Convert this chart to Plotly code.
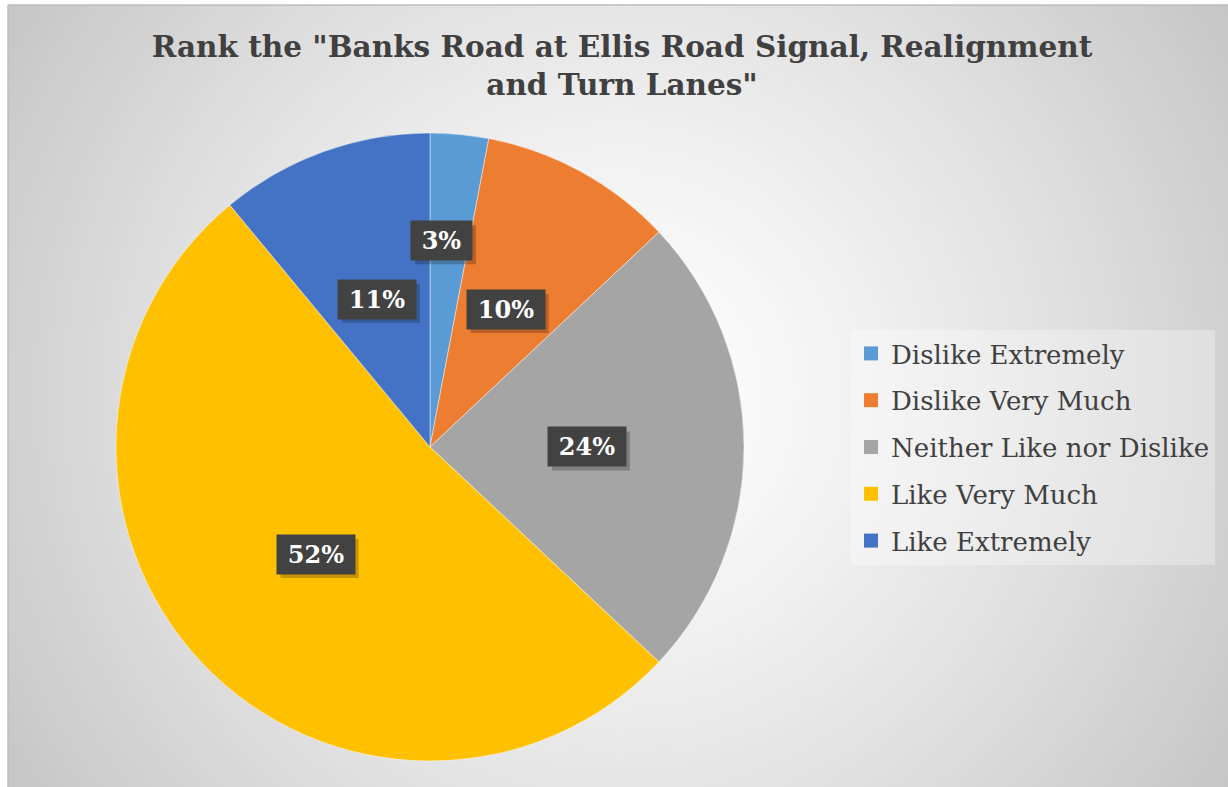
import math
import plotly.graph_objects as go

# Survey responses for the Banks Road / Ellis Road signal project
categories = ["Dislike Extremely", "Dislike Very Much", "Neither Like nor Dislike",
              "Like Very Much", "Like Extremely"]
percentages = [3, 10, 24, 52, 11]
slice_colors = ["#5B9BD5", "#ED7D31", "#A5A5A5", "#FFC000", "#4472C4"]

title_text = 'Rank the "Banks Road at Ellis Road Signal, Realignment<br>and Turn Lanes"'

W, H = 1228, 787
CX, CY, R = 430, 447, 314          # pie centre and radius in pixels
LEFT_PAD, TOP_PAD = 8, 5           # white margin around the chart area
label_radius = [0.66, 0.5, 0.5, 0.5, 0.5]
label_nudge = [-8, 0, 0, 0, 0]     # small horizontal nudge in pixels


def px_x(x):
    return x / W


def px_y(y):
    return 1 - y / H


fig = go.Figure()

fig.add_trace(go.Pie(
    labels=categories,
    values=percentages,
    marker=dict(colors=slice_colors, line=dict(color="rgba(255,255,255,0.55)", width=0.8)),
    sort=False,
    direction="clockwise",
    rotation=0,
    textinfo="none",
    hoverinfo="label+percent",
    showlegend=False,
    domain=dict(x=[px_x(CX - R), px_x(CX + R)], y=[px_y(CY + R), px_y(CY - R)]),
))

# legend entries, one group per category so they can be spaced apart
for name, col in zip(categories, slice_colors):
    fig.add_trace(go.Scatter(
        x=[None], y=[None], mode="markers", name=name, legendgroup=name,
        marker=dict(symbol="square", size=14, color=col),
    ))

# radial background gradient: white in the middle, grey towards the corners
shapes = []
GX, GY = (W + LEFT_PAD) / 2, (H + TOP_PAD) / 2
RMAX = 780
steps = 90
for i in range(steps, 0, -1):
    r = RMAX * i / steps
    t = min(r / 725, 1.08)
    g = int(round(255 - 57 * t ** 1.3))
    g = max(g, 190)
    shapes.append(dict(
        type="circle", xref="paper", yref="paper", layer="below",
        x0=px_x(GX - r), x1=px_x(GX + r), y0=px_y(GY + r), y1=px_y(GY - r),
        fillcolor=f"rgb({g},{g},{g})", line=dict(width=0),
    ))
# white page margin to the left and top, and thin outline of the chart area
shapes.append(dict(type="rect", xref="paper", yref="paper", layer="below",
                   x0=0, x1=px_x(LEFT_PAD), y0=0, y1=1,
                   fillcolor="white", line=dict(width=0)))
shapes.append(dict(type="rect", xref="paper", yref="paper", layer="below",
                   x0=0, x1=1, y0=px_y(TOP_PAD), y1=1,
                   fillcolor="white", line=dict(width=0)))
shapes.append(dict(type="line", xref="paper", yref="paper", layer="below",
                   x0=px_x(LEFT_PAD), x1=1, y0=px_y(TOP_PAD), y1=px_y(TOP_PAD),
                   line=dict(color="#bdbdbd", width=1.5)))
shapes.append(dict(type="line", xref="paper", yref="paper", layer="below",
                   x0=px_x(LEFT_PAD), x1=px_x(LEFT_PAD), y0=0, y1=px_y(TOP_PAD),
                   line=dict(color="#bdbdbd", width=1.5)))

# percentage labels in dark boxes, placed at each slice's mid-angle
annotations = []
total = sum(percentages)
cum = 0
BOX_H = 33
PAD = 3
for v, frac, nudge in zip(percentages, label_radius, label_nudge):
    mid = 2 * math.pi * (cum + v / 2) / total
    cum += v
    lx = CX + frac * R * math.sin(mid) + nudge
    ly = CY - frac * R * math.cos(mid)
    txt = f"{v}%"
    box_w = 17 * (len(txt) - 1) + 38
    # soft drop shadow behind the label box
    hw, hh = box_w / 2 + PAD, BOX_H / 2 + PAD
    shapes.append(dict(
        type="rect", xref="paper", yref="paper", layer="above",
        xsizemode="pixel", ysizemode="pixel",
        xanchor=px_x(lx), yanchor=px_y(ly),
        x0=-hw + 4, x1=hw + 4, y0=-hh - 4, y1=hh - 4,
        fillcolor="rgba(0,0,0,0.22)", line=dict(width=0),
    ))
    annotations.append(dict(
        x=px_x(lx), y=px_y(ly), xref="paper", yref="paper",
        xanchor="center", yanchor="middle",
        showarrow=False, width=box_w, height=BOX_H, borderpad=PAD,
        text=txt, bgcolor="#424242",
        font=dict(family="DejaVu Serif", size=24, weight="bold", color="white"),
    ))

fig.update_layout(
    width=W, height=H,
    margin=dict(l=0, r=0, t=0, b=0),
    paper_bgcolor="white",
    plot_bgcolor="rgba(0,0,0,0)",
    xaxis=dict(visible=False),
    yaxis=dict(visible=False),
    title=dict(
        text=title_text,
        x=622 / W, xanchor="center",
        y=px_y(57), yanchor="top",
        font=dict(family="DejaVu Serif", size=29.5, weight="bold", color="#404040"),
    ),
    legend=dict(
        x=px_x(851), y=px_y(330), xanchor="left", yanchor="top",
        bgcolor="rgba(255,255,255,0.3)",
        font=dict(family="DejaVu Serif", size=26, color="#404040"),
        traceorder="grouped", tracegroupgap=10,
        itemclick=False, itemdoubleclick=False,
    ),
    shapes=shapes,
    annotations=annotations,
)

fig.write_html("out.html")
